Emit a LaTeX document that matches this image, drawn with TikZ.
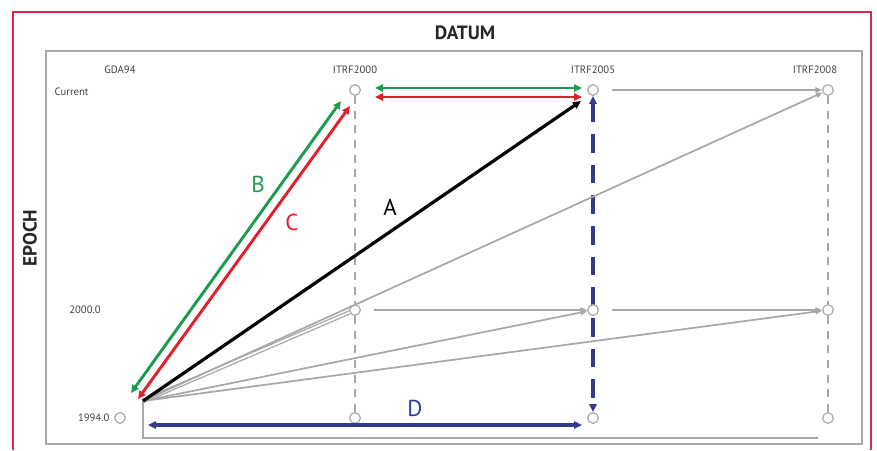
\documentclass[tikz,border=0pt]{standalone}
\usepackage{fontspec}
\setmainfont{PT Sans}
\usetikzlibrary{arrows.meta,backgrounds}
\definecolor{dgreen}{HTML}{1E9B50}
\definecolor{dred}{HTML}{E0202C}
\definecolor{navy}{HTML}{363A8E}
\definecolor{lgray}{HTML}{A8A8A8}
\definecolor{frame}{HTML}{E2234A}
\tikzset{
  >={Triangle[length=6pt,width=5.5pt]},
  epoch/.style={circle,draw=lgray,line width=.9pt,fill=white,minimum size=8pt,inner sep=0pt},
  lbl/.style={font=\footnotesize,text=black!75},
  axis/.style={font=\bfseries\Large,text=black!85},
  tag/.style={font=\LARGE},
  link/.style={->,line width=1.3pt,draw=lgray,>={Triangle[length=5pt,width=4pt]}},
  vdash/.style={lgray,line width=1.3pt,dash pattern=on 6pt off 5pt},
  moveline/.style={<->,line width=2.2pt}
}

\begin{document}
\begin{tikzpicture}[x=0.75pt,y=-0.75pt]
  \useasboundingbox (0,0) rectangle (877,450);
  \draw[frame,line width=1.5pt] (13,450) -- (13,12) -- (871,12) -- (871,450);
  \draw[lgray,line width=1.6pt] (46,51) rectangle (862,444);
  \node[axis] (datum) at (465,33) {DATUM};
  \node[axis,rotate=90] (epochlbl) at (30,238) {EPOCH};

  % epoch / datum grid
  \node[epoch] (gda) at (120,418) {};
  \foreach \n/\x in {00/355,05/593,08/828} {
    \node[epoch] (k\n-cur) at (\x,90) {};
    \node[epoch] (k\n-mid) at (\x,310) {};
    \node[epoch] (k\n-old) at (\x,418) {};
  }
  \node[lbl] (h94) at (120,70) {GDA94};
  \node[lbl] (h00) at (355,70) {ITRF2000};
  \node[lbl] (h05) at (593,70) {ITRF2005};
  \node[lbl] (h08) at (815,70) {ITRF2008};
  \node[lbl,anchor=west] (rcur) at (50,92) {Current};
  \node[lbl] (rmid) at (85,310) {2000.0};
  \node[lbl,anchor=east] (rold) at (gda.west) {1994.0};

  \begin{scope}[on background layer]
    \foreach \n in {00,08} {
      \draw[vdash] (k\n-cur) -- (k\n-mid);
      \draw[vdash] (k\n-mid) -- (k\n-old);
    }
    \draw[moveline,navy,line width=2.6pt,dash pattern=on 14pt off 9pt] (k05-cur) -- (k05-old);
  \end{scope}

  \coordinate (o) at (143,401);
  \coordinate (bend) at (818,438);
  \coordinate (gb0) at (131,393);
  \coordinate (gb1) at (341,101);
  \coordinate (rc0) at (138,399);
  \coordinate (rc1) at (350,106);
  \coordinate (ab1) at (581,101);
  \coordinate (gt0) at (375,88);
  \coordinate (gt1) at (582,88);
  \coordinate (rt0) at (375,97);
  \coordinate (rt1) at (582,97);
  \coordinate (d0) at (148,425);
  \coordinate (d1) at (582,425);

  % gray transformations
  \draw[lgray,line width=2pt] (o) |- (bend);
  \draw[lgray,line width=1pt,double=white,double distance=1.3pt] (o) -- (k00-mid);
  \draw[link] (o) -- (k05-mid);
  \draw[link] (o) -- (k08-mid);
  \draw[link] (o) -- (k08-cur);
  \draw[link,shorten <=10pt] (k00-mid) -- (k05-mid);
  \draw[link,shorten <=10pt] (k05-mid) -- (k08-mid);
  \draw[link,shorten <=10pt] (k05-cur) -- (k08-cur);

  % highlighted paths
  \draw[moveline,dgreen] (gb0) -- (gb1);
  \draw[moveline,dred] (rc0) -- (rc1);
  \draw[->,line width=2.4pt] (o) -- (ab1);
  \draw[moveline,dgreen] (gt0) -- (gt1);
  \draw[moveline,dred] (rt0) -- (rt1);
  \draw[moveline,navy,line width=2.6pt] (d0) -- (d1);

  \node[tag,text=black] (ta) at (390,207) {A};
  \node[tag,text=dgreen] (tb) at (258,184) {B};
  \node[tag,text=dred] (tc) at (292,222) {C};
  \node[tag,text=navy] (td) at (415,408) {D};
\end{tikzpicture}
\end{document}
